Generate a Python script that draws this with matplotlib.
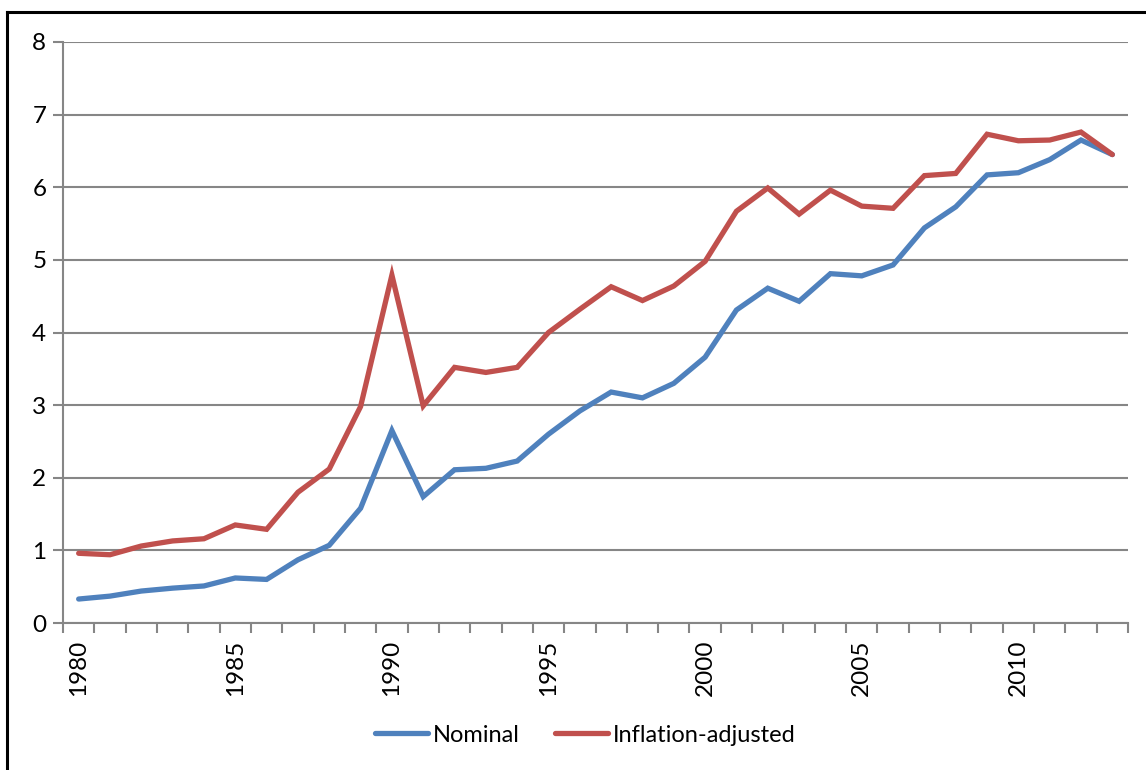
import matplotlib
matplotlib.use("Agg")
import matplotlib.pyplot as plt
from matplotlib.lines import Line2D
from matplotlib.ticker import FixedLocator, NullFormatter

plt.rcParams['font.family'] = ['Lato', 'DejaVu Sans']

years = list(range(1980, 2014))
nominal = [0.33, 0.37, 0.44, 0.48, 0.51, 0.62, 0.60, 0.87, 1.07, 1.58,
           2.65, 1.74, 2.11, 2.13, 2.23, 2.60, 2.92, 3.18, 3.10, 3.30,
           3.66, 4.31, 4.61, 4.43, 4.81, 4.78, 4.93, 5.44, 5.73, 6.17,
           6.20, 6.38, 6.65, 6.45]
adjusted = [0.96, 0.94, 1.06, 1.13, 1.16, 1.35, 1.29, 1.80, 2.12, 2.98,
            4.79, 2.99, 3.52, 3.45, 3.52, 4.00, 4.32, 4.63, 4.44, 4.64,
            4.98, 5.67, 5.99, 5.63, 5.96, 5.74, 5.71, 6.16, 6.19, 6.73,
            6.64, 6.65, 6.76, 6.45]
label_years = [1980, 1985, 1990, 1995, 2000, 2005, 2010]

blue = '#4F81BD'
red = '#C0504D'
grey = '#868686'

fig = plt.figure(figsize=(11.46, 7.7), dpi=100)
ax = fig.add_axes([63 / 1146, 1 - 623 / 770, (1128 - 63) / 1146, (623 - 42) / 770])

ax.plot(years, nominal, color=blue, lw=3.8, solid_capstyle='round',
        solid_joinstyle='miter', label='Nominal')
ax.plot(years, adjusted, color=red, lw=3.8, solid_capstyle='round',
        solid_joinstyle='miter', label='Inflation-adjusted')

ax.set_xlim(years[0] - 0.5, years[-1] + 0.5)
ax.set_ylim(0, 8)
ax.set_yticks(range(0, 9))
ax.yaxis.grid(True, color=grey, lw=1.5)
ax.set_axisbelow(True)

# category axis: labels at year centres, tick marks at boundaries
ax.set_xticks(label_years)
ax.set_xticklabels([str(y) for y in label_years], rotation=90)
ax.tick_params(axis='x', which='major', length=0, pad=12)
ax.xaxis.set_minor_locator(FixedLocator([y - 0.5 for y in years] + [years[-1] + 0.5]))
ax.xaxis.set_minor_formatter(NullFormatter())
ax.tick_params(axis='x', which='minor', length=7, width=1.5, color=grey, direction='out')
ax.tick_params(axis='y', length=7, width=1.5, color=grey, direction='out', pad=5)
ax.tick_params(labelsize=17.5)

for s in ['top', 'right']:
    ax.spines[s].set_visible(False)
for s in ['left', 'bottom']:
    ax.spines[s].set_color(grey)
    ax.spines[s].set_linewidth(1.5)

leg = fig.legend(loc='center', bbox_to_anchor=(585 / 1146, 1 - 735 / 770), ncol=2,
                 frameon=False, fontsize=17, handlelength=2.25, handletextpad=0.2,
                 columnspacing=1.5)

# outer chart border (top and left edges visible)
fig.add_artist(Line2D([7 / 1146, 7 / 1146], [0, 1 - 12 / 770], transform=fig.transFigure,
                      color='black', lw=2.2))
fig.add_artist(Line2D([7 / 1146, 1], [1 - 12 / 770, 1 - 12 / 770], transform=fig.transFigure,
                      color='black', lw=2.2))

fig.savefig('out.png', dpi=100)
